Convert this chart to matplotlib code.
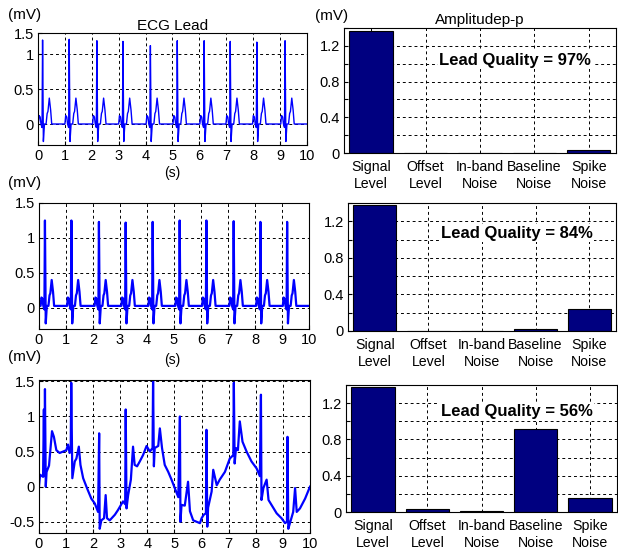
import numpy as np
import matplotlib
matplotlib.use("Agg")
import matplotlib.pyplot as plt

plt.rcParams['font.family'] = ['Liberation Sans', 'DejaVu Sans']
plt.rcParams['font.size'] = 10
plt.rcParams['axes.unicode_minus'] = False

# ---- ECG data ----
# one beat, time relative to the R peak (s) and value (mV); R value replaced per beat
beat_dt = [-0.16, -0.13, -0.09, -0.06, -0.02, 0.0, 0.03, 0.07, 0.13, 0.17, 0.20, 0.25, 0.30, 0.34]
beat_v = [0.0, 0.12, 0.10, 0.0, -0.05, 1.2, -0.25, 0.0, 0.0, 0.15, 0.18, 0.37, 0.20, 0.0]

# lead 1: clean
r_times1 = [0.17, 1.16, 2.19, 3.16, 4.18, 5.18, 6.18, 7.15, 8.14, 9.19]
r_amps1 = [1.20, 1.21, 1.19, 1.18, 1.12, 1.19, 1.19, 1.18, 1.17, 1.19]

# lead 2: in-band noise
r_times2 = [0.22, 1.20, 2.22, 3.21, 4.21, 5.21, 6.20, 7.21, 8.20, 9.19]
r_amps2 = [1.22, 1.22, 1.20, 1.19, 1.20, 1.22, 1.22, 1.21, 1.20, 1.20]
base2 = 0.03

# lead 3: baseline wander, traced point by point
t3 = [0.0, 0.04, 0.15, 0.18, 0.20, 0.22, 0.25, 0.28, 0.37, 0.48, 0.55, 0.64, 0.76, 0.89,
      1.01, 1.07, 1.13, 1.17, 1.19, 1.23, 1.32, 1.38, 1.47, 1.53, 1.63, 1.77, 1.93, 2.06,
      2.18, 2.22, 2.24, 2.30, 2.40, 2.46, 2.51, 2.61, 2.80, 2.92, 3.10, 3.18, 3.20, 3.23,
      3.29, 3.39, 3.47, 3.53, 3.62, 3.72, 3.84, 3.97, 4.09, 4.19, 4.21, 4.24, 4.27, 4.40,
      4.46, 4.54, 4.64, 4.77, 4.89, 5.01, 5.14, 5.20, 5.22, 5.26, 5.38, 5.50, 5.57, 5.69,
      5.94, 6.00, 6.08, 6.16, 6.18, 6.21, 6.24, 6.37, 6.43, 6.56, 6.67, 6.86, 7.04, 7.17,
      7.19, 7.22, 7.27, 7.34, 7.41, 7.51, 7.66, 7.84, 8.03, 8.15, 8.19, 8.21, 8.28, 8.40,
      8.47, 8.58, 8.77, 8.95, 9.08, 9.15, 9.17, 9.20, 9.26, 9.38, 9.45, 9.51, 9.63, 9.82, 10.0]
v3 = [0.0, 0.17, 0.14, 1.10, 0.15, 1.39, 0.0, 0.21, 0.30, 0.79, 0.71, 0.52, 0.48, 0.50,
      0.52, 0.60, 0.48, 0.50, 1.48, 0.12, 0.36, 0.40, 0.57, 0.31, 0.12, -0.02, -0.17, -0.24,
      -0.36, 0.76, -0.60, -0.48, -0.45, -0.12, -0.45, -0.48, -0.40, -0.33, -0.21, -0.25, 1.10, -0.31,
      -0.12, 0.10, 0.57, 0.31, 0.29, 0.36, 0.45, 0.58, 0.50, 0.55, 1.54, 0.29, 0.55, 0.58,
      0.83, 0.55, 0.31, 0.21, 0.10, -0.02, -0.15, 1.00, -0.50, -0.26, -0.27, 0.07, -0.35, -0.48,
      -0.52, -0.45, -0.40, -0.38, 0.81, -0.57, -0.30, -0.07, 0.24, 0.02, 0.10, 0.21, 0.40, 0.45,
      1.48, 0.33, 0.55, 0.52, 0.93, 0.64, 0.50, 0.36, 0.26, 0.15, 1.31, -0.19, -0.02, 0.10,
      -0.19, -0.26, -0.38, -0.45, -0.52, -0.50, 0.71, -0.60, -0.52, -0.36, -0.02, -0.36, -0.31, -0.17, 0.0]

# ---- bar data ----
bar_labels = ['Signal\nLevel', 'Offset\nLevel', 'In-band\nNoise', 'Baseline\nNoise', 'Spike\nNoise']
amp1 = [1.37, 0.0, 0.0, 0.0, 0.03]
amp2 = [1.38, 0.0, 0.0, 0.02, 0.24]
amp3 = [1.38, 0.03, 0.01, 0.91, 0.16]
quality = [97, 84, 56]


def build_trace(r_times, r_amps, base=0.0):
    t = [0.0]
    v = [base]
    for rt, ra in zip(r_times, r_amps):
        for dt, bv in zip(beat_dt, beat_v):
            t.append(rt + dt)
            v.append(base + (ra if dt == 0.0 else bv))
    t.append(10.0)
    v.append(base)
    return t, v


def style_axes(ax):
    ax.grid(True, color='black', linestyle=(0, (3, 3)), linewidth=0.7)
    ax.set_axisbelow(True)
    ax.tick_params(direction='in', length=3, labelsize=10.5, pad=3)
    for s in ax.spines.values():
        s.set_linewidth(0.8)


fig = plt.figure(figsize=(6.18, 5.56), dpi=100)

left_pos = [[0.0615, 0.7392, 0.435, 0.2014],
            [0.0631, 0.4083, 0.4369, 0.2266],
            [0.0631, 0.0414, 0.4385, 0.2752]]
right_pos = [[0.5566, 0.7248, 0.440, 0.2248],
             [0.5631, 0.4047, 0.4337, 0.2302],
             [0.5599, 0.0791, 0.4385, 0.2284]]

tr1 = build_trace(r_times1, r_amps1)
tr2 = build_trace(r_times2, r_amps2, base2)
traces = [(tr1, 1.0), (tr2, 1.6), ((t3, v3), 1.6)]
ylims = [(-0.3, 1.3), (-0.3, 1.5), (-0.66, 1.52)]
yticks = [[0, 0.5, 1, 1.3], [0, 0.5, 1, 1.5], [-0.5, 0, 0.5, 1, 1.5]]
yticklabels = [['0', '0.5', '1', '1.5'], ['0', '0.5', '1', '1.5'], ['-0.5', '0', '0.5', '1', '1.5']]

for i in range(3):
    ax = fig.add_axes(left_pos[i])
    (t, v), lw = traces[i]
    ax.plot(t, v, color='#0000ff', linewidth=lw)
    ax.set_xlim(0, 10)
    ax.set_ylim(*ylims[i])
    ax.set_xticks(range(11))
    ax.set_yticks(yticks[i])
    ax.set_yticklabels(yticklabels[i])
    style_axes(ax)
    if i == 0:
        ax.set_title('ECG Lead', fontsize=11, pad=2)

bars = [amp1, amp2, amp3]
text_y = [1.04, 1.07, 1.11]
for i in range(3):
    ax = fig.add_axes(right_pos[i])
    ax.bar(range(1, 6), bars[i], width=0.8, color='#000080', edgecolor='black', linewidth=0.8)
    ax.set_xlim(0.5, 5.5)
    ax.set_ylim(0, 1.4)
    ax.set_xticks(range(1, 6))
    ax.set_xticklabels(bar_labels, linespacing=1.3)
    yt = np.arange(0, 1.41, 0.2)
    ax.set_yticks(yt)
    ax.set_yticklabels(['0', '', '0.4', '', '0.8', '', '1.2', ''])
    style_axes(ax)
    ax.tick_params(axis='x', length=0, pad=5, labelsize=10.2)
    ax.text(3.65, text_y[i], 'Lead Quality = %d%%' % quality[i], ha='center', va='center',
            fontsize=12, fontweight='bold',
            bbox=dict(facecolor='white', edgecolor='none', pad=1))
    if i == 0:
        ax.set_title('Amplitudep-p', fontsize=11, pad=3)

# unit labels
for y in [15, 183, 357]:
    fig.text(8 / 618, 1 - y / 556, '(mV)', ha='left', va='center', fontsize=11)
fig.text(315 / 618, 1 - 16 / 556, '(mV)', ha='left', va='center', fontsize=11)
for y in [173, 360]:
    fig.text(172 / 618, 1 - y / 556, '(s)', ha='center', va='center', fontsize=10)

fig.savefig('out.png', dpi=100)
